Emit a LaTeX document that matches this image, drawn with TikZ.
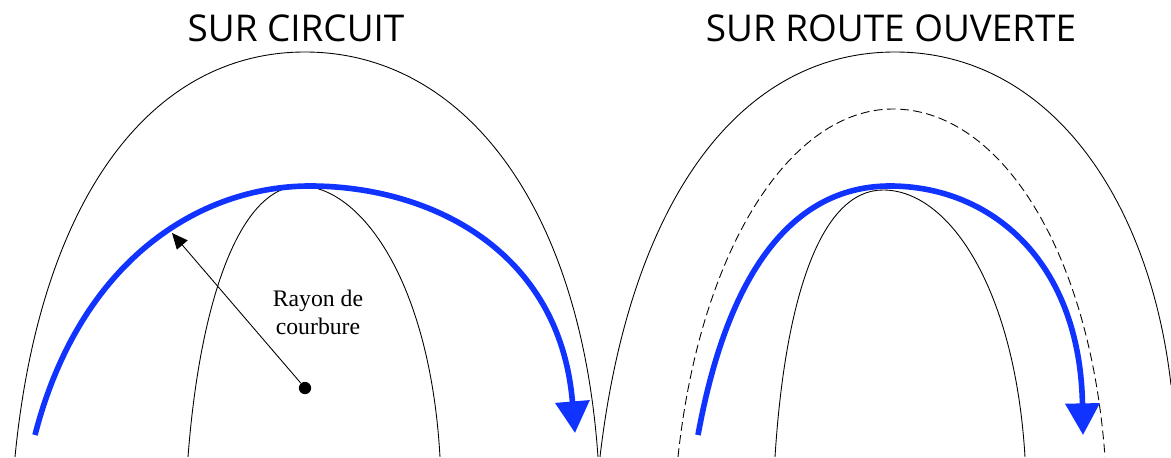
\documentclass[tikz,border=0pt]{standalone}
\usepackage{fontspec}
\setmainfont{Liberation Serif}
\newfontfamily\titlefont{Open Sans}
\usetikzlibrary{
  arrows.meta,
  positioning
}
\definecolor{trajblue}{HTML}{1133FF}

\begin{document}
\begin{tikzpicture}[
      x=0.02cm, y=-0.02cm,
      trackline/.style={line width=0.5pt, black},
      laneline/.style={line width=0.5pt, black, dash pattern=on 5pt off 2.5pt},
      trajet/.style={-{Triangle[length=18pt, width=19pt]}, line width=3.2pt, trajblue},
      rayon/.style={-{Triangle[length=9pt, width=8pt]}, line width=0.5pt, black},
      titre/.style={font=\titlefont\fontsize{21}{24}\selectfont},
      legende/.style={font=\fontsize{13.5}{16}\selectfont, align=center}
    ]
      \useasboundingbox (0,0) rectangle (1171,457);

      % titres
      \node[titre] (circuit) at (296,28) {SUR CIRCUIT};
      \node[titre] (route) at (891,28) {SUR ROUTE OUVERTE};

      % sur circuit : bords de la piste
      \draw[trackline] (15,457) .. controls (40,200) and (150,52) .. (305,52)
                                .. controls (460,52) and (580,200) .. (598,457);
      \draw[trackline] (188,457) .. controls (200,300) and (240,186) .. (300,186)
                                 .. controls (360,186) and (430,280) .. (440,457);

      % sur circuit : trajectoire
      \coordinate (c-start) at (35,435);
      \coordinate (c-end) at (575,433);
      \draw[trajet] (c-start) .. controls (80,260) and (200,186) .. (310,186)
                              .. controls (430,186) and (560,250) .. (c-end);

      % rayon de courbure
      \node[circle, fill=black, inner sep=0pt, minimum size=7pt] (centre) at (305,388) {};
      \coordinate (bord) at (172,233);
      \draw[rayon] (centre) -- (bord);
      \node[legende] (rayon-txt) at (318,312) {Rayon de\\courbure};

      % sur route ouverte : bords et ligne mediane
      \draw[trackline] (600,457) .. controls (630,200) and (740,52) .. (895,52)
                                 .. controls (1050,52) and (1150,200) .. (1171,385);
      \draw[laneline] (678,457) .. controls (700,250) and (790,109) .. (893,109)
                                .. controls (1000,109) and (1090,250) .. (1105,457);
      \draw[trackline] (775,457) .. controls (785,300) and (820,190) .. (883,190)
                                 .. controls (950,190) and (1015,290) .. (1025,457);

      % sur route ouverte : trajectoire
      \coordinate (r-start) at (698,435);
      \coordinate (r-end) at (1083,435);
      \draw[trajet] (r-start) .. controls (730,260) and (800,186) .. (890,186)
                              .. controls (990,186) and (1080,260) .. (r-end);
    \end{tikzpicture}
\end{document}
